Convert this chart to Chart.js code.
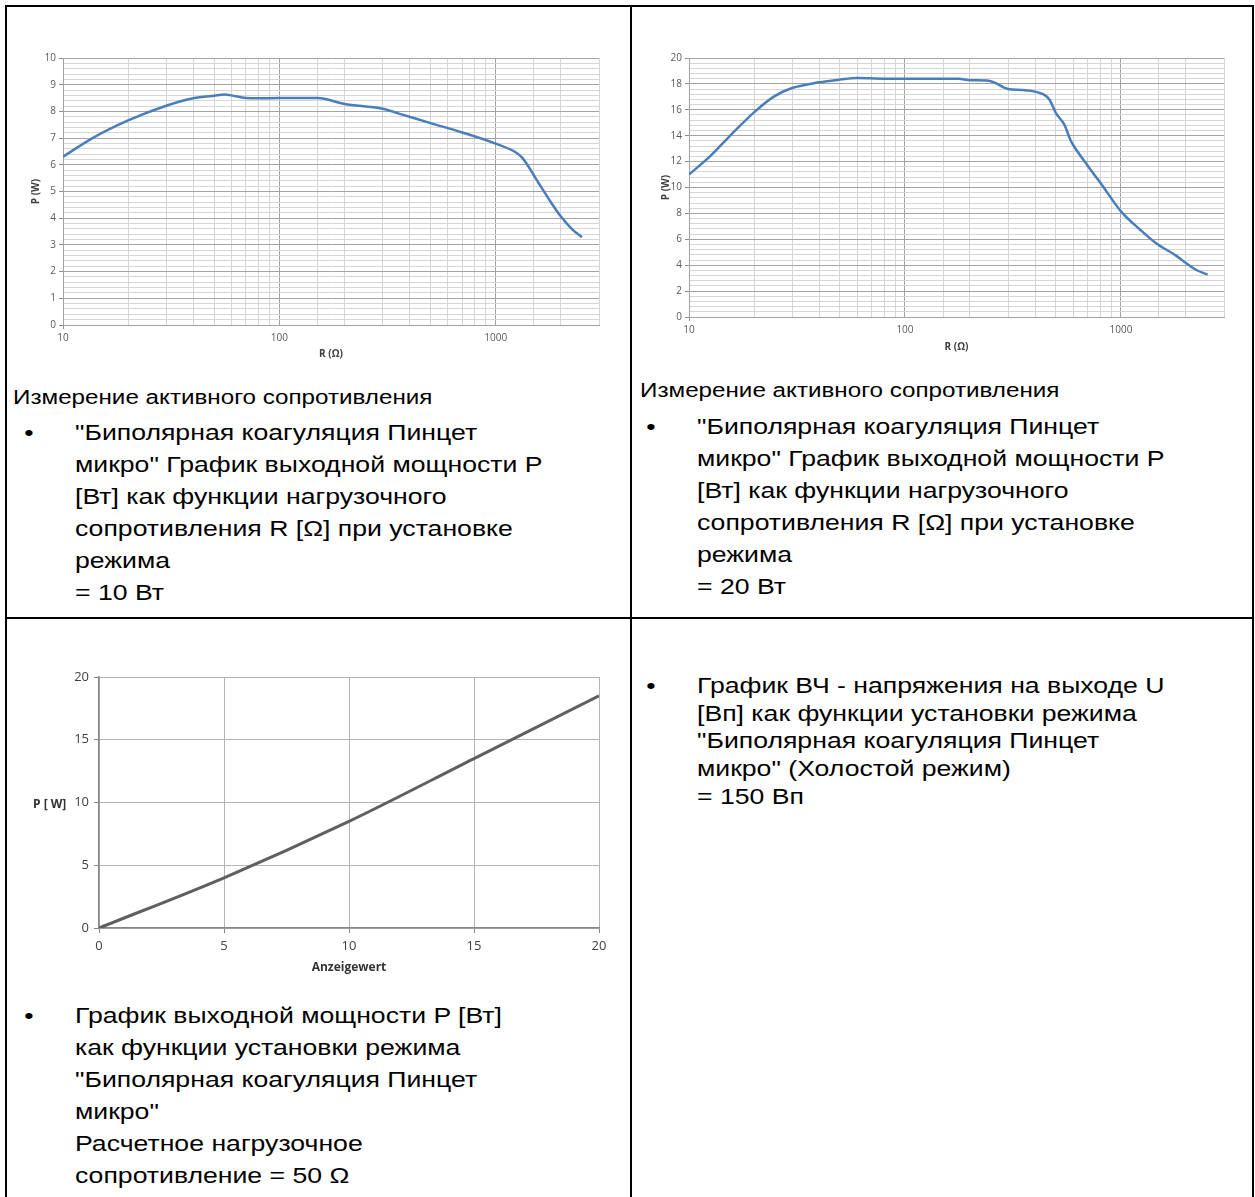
<!DOCTYPE html>
<html lang="ru">
<head>
  <meta charset="UTF-8" />
  <title>Биполярная коагуляция Пинцет микро</title>
  <script src="https://cdn.jsdelivr.net/npm/chart.js"></script>
  <style>
    body {
      margin: 0;
      background: #fff;
      font-family: "Liberation Sans", Arial, sans-serif;
      color: #000;
    }

    #page {
      position: relative;
      width: 1255px;
      height: 1197px;
      overflow: hidden;
    }

    .rule {
      position: absolute;
      background: #000;
    }

    canvas {
      position: absolute;
    }

    /* the scanned page is stretched sideways, so the text is too */
    .caption {
      position: absolute;
      font-size: 20px;
      line-height: 24px;
      white-space: nowrap;
      transform: scaleX(1.21);
      transform-origin: 0 0;
    }

    .para {
      position: absolute;
      font-size: 22px;
      line-height: 32px;
      white-space: nowrap;
      transform: scaleX(1.21);
      transform-origin: 0 0;
    }

    .para::before {
      content: "•";
      position: absolute;
      left: -42px;
      top: 0;
    }

    #ylab3 {
      position: absolute;
      font-family: "Open Sans", sans-serif;
      font-weight: bold;
      font-size: 12px;
      color: #333;
      white-space: nowrap;
    }
  </style>
</head>
<body>
<div id="page">
  <!-- table rules -->
  <div class="rule" style="left:5px; top:5px; width:1249px; height:2px;"></div>
  <div class="rule" style="left:5px; top:5px; width:2px; height:1192px;"></div>
  <div class="rule" style="left:630px; top:5px; width:2px; height:1192px;"></div>
  <div class="rule" style="left:1252px; top:5px; width:2px; height:1192px;"></div>
  <div class="rule" style="left:5px; top:617px; width:1249px; height:2px;"></div>

  <canvas id="chart10" width="600" height="330" style="left:10px; top:40px;"></canvas>
  <canvas id="chart20" width="600" height="330" style="left:637px; top:40px;"></canvas>
  <canvas id="chartSet" width="610" height="330" style="left:10px; top:660px;"></canvas>
  <div id="ylab3" style="left:33px; top:795px;">P [ W]</div>

  <div class="caption" style="left:13px; top:385px;">Измерение активного сопротивления</div>
  <div class="para" style="left:75px; top:417px;">
    "Биполярная коагуляция Пинцет<br>
    микро" График выходной мощности P<br>
    [Вт] как функции нагрузочного<br>
    сопротивления R [Ω] при установке<br>
    режима<br>
    = 10 Вт
  </div>

  <div class="caption" style="left:640px; top:378px;">Измерение активного сопротивления</div>
  <div class="para" style="left:697px; top:411px;">
    "Биполярная коагуляция Пинцет<br>
    микро" График выходной мощности P<br>
    [Вт] как функции нагрузочного<br>
    сопротивления R [Ω] при установке<br>
    режима<br>
    = 20 Вт
  </div>

  <div class="para" style="left:697px; top:672px; line-height:27.7px;">
    График ВЧ - напряжения на выходе U<br>
    [Вп] как функции установки режима<br>
    "Биполярная коагуляция Пинцет<br>
    микро" (Холостой режим)<br>
    = 150 Вп
  </div>

  <div class="para" style="left:75px; top:1000px;">
    График выходной мощности P [Вт]<br>
    как функции установки режима<br>
    "Биполярная коагуляция Пинцет<br>
    микро"<br>
    Расчетное нагрузочное<br>
    сопротивление = 50 Ω
  </div>
</div>

<script>
  // P(R) at the 10 W setting
  const r10 = [10, 13.7, 20, 30, 40, 50, 56, 60, 70, 80, 100, 150, 200, 300, 370, 500, 700, 1000, 1240, 1330, 1580, 1800, 2000, 2270, 2500];
  const p10 = [6.3, 7.0, 7.66, 8.21, 8.49, 8.59, 8.63, 8.6, 8.5, 8.49, 8.5, 8.5, 8.28, 8.1, 7.88, 7.56, 7.21, 6.79, 6.46, 6.25, 5.31, 4.59, 4.06, 3.56, 3.29];

  // P(R) at the 20 W setting
  const r20 = [10, 12.5, 15.4, 20, 24.6, 30, 40, 50, 60, 80, 100, 177, 200, 244, 260, 300, 350, 440, 467, 500, 547, 583, 600, 700, 800, 1000, 1227, 1450, 1800, 2000, 2220, 2520];
  const p20 = [11, 12.4, 13.95, 15.8, 17.0, 17.68, 18.12, 18.33, 18.46, 18.4, 18.4, 18.4, 18.28, 18.25, 18.1, 17.6, 17.53, 17.17, 16.78, 15.75, 14.85, 13.69, 13.3, 11.7, 10.4, 8.16, 6.74, 5.71, 4.74, 4.17, 3.65, 3.27];

  // P against the display setting, 50 Ω load
  const setting = [0, 5, 10, 15, 20];
  const powerW = [0, 4.0, 8.5, 13.5, 18.5];

  const rTicks = [10, 100, 1000];

  const toPoints = (xs, ys) => xs.map((x, i) => ({ x: x, y: ys[i] }));
  const isDecade = v => Math.abs(Math.log10(v) - Math.round(Math.log10(v))) < 1e-9;
  const isStep = (v, step) => Math.abs(v / step - Math.round(v / step)) < 1e-6;

  const tickFont = { family: "Open Sans", size: 10 };
  const titleFont = { family: "Open Sans", size: 10, weight: "bold" };

  function loadChart(id, xs, ys, yMax, yMajor, box) {
    new Chart(document.getElementById(id), {
      type: 'line',
      data: {
        datasets: [{
          data: toPoints(xs, ys),
          borderColor: '#4a7ebb',
          borderWidth: 2.5,
          pointRadius: 0,
          cubicInterpolationMode: 'monotone',
          fill: false
        }]
      },
      options: {
        responsive: false,
        animation: false,
        devicePixelRatio: 1,
        layout: { padding: { top: box.top, right: box.right, left: 0, bottom: 0 } },
        plugins: { legend: { display: false }, tooltip: { enabled: false } },
        scales: {
          x: {
            type: 'logarithmic',
            min: 10,
            max: 3000,
            afterFit: s => { s.height = box.xH; },
            grid: {
              color: c => isDecade(c.tick.value) ? '#a3a3a3' : '#d6d6d6',
              tickColor: c => c.tick.value === 10 ? '#8c8c8c' : 'transparent',
              tickLength: 4
            },
            border: { color: '#a3a3a3' },
            ticks: {
              autoSkip: false,
              maxRotation: 0,
              padding: 3,
              color: '#595959',
              font: tickFont,
              callback: v => rTicks.includes(v) ? String(v) : ''
            },
            title: { display: true, text: 'R (Ω)', color: '#404040', font: titleFont, padding: { top: 0, bottom: box.xPad } }
          },
          y: {
            min: 0,
            max: yMax,
            afterFit: s => { s.width = box.yW; },
            grid: {
              color: c => isStep(c.tick.value, yMajor) ? '#a3a3a3' : '#d6d6d6',
              tickColor: c => isStep(c.tick.value, yMajor) ? '#8c8c8c' : 'transparent',
              tickLength: 4
            },
            border: { color: '#a3a3a3' },
            ticks: {
              stepSize: yMajor / 5,
              autoSkip: false,
              padding: 3,
              color: '#595959',
              font: tickFont,
              callback: v => isStep(v, yMajor) ? String(Math.round(v)) : ''
            },
            title: { display: true, text: 'P (W)', color: '#404040', font: titleFont, padding: { top: box.yPad, bottom: 0 } }
          }
        }
      }
    });
  }

  loadChart('chart10', r10, p10, 10, 1, { top: 18, right: 11, yW: 53, xH: 45, xPad: 10, yPad: 20 });
  loadChart('chart20', r20, p20, 20, 2, { top: 18, right: 13, yW: 52, xH: 53, xPad: 17, yPad: 23 });

  new Chart(document.getElementById('chartSet'), {
    type: 'line',
    data: {
      datasets: [{
        data: toPoints(setting, powerW),
        borderColor: '#5f5f5f',
        borderWidth: 3,
        pointRadius: 0,
        cubicInterpolationMode: 'monotone',
        fill: false
      }]
    },
    options: {
      responsive: false,
      animation: false,
      devicePixelRatio: 1,
      layout: { padding: { top: 17, right: 21, left: 0, bottom: 0 } },
      plugins: { legend: { display: false }, tooltip: { enabled: false } },
      scales: {
        x: {
          type: 'linear',
          min: 0,
          max: 20,
          afterFit: s => { s.height = 62; },
          grid: { color: '#b4b4b4', tickColor: '#868686', tickLength: 5 },
          border: { color: '#868686', width: 1.5 },
          ticks: { stepSize: 5, padding: 5, color: '#404040', font: { family: "Open Sans", size: 13 } },
          title: { display: true, text: 'Anzeigewert', color: '#333', font: { family: "Open Sans", size: 12, weight: 'bold' }, padding: { top: 0, bottom: 15 } }
        },
        y: {
          min: 0,
          max: 20,
          afterFit: s => { s.width = 89; },
          grid: { color: '#b4b4b4', tickColor: '#868686', tickLength: 5 },
          border: { color: '#868686', width: 1.5 },
          ticks: { stepSize: 5, padding: 5, color: '#404040', font: { family: "Open Sans", size: 13 } }
        }
      }
    }
  });
</script>
</body>
</html>
